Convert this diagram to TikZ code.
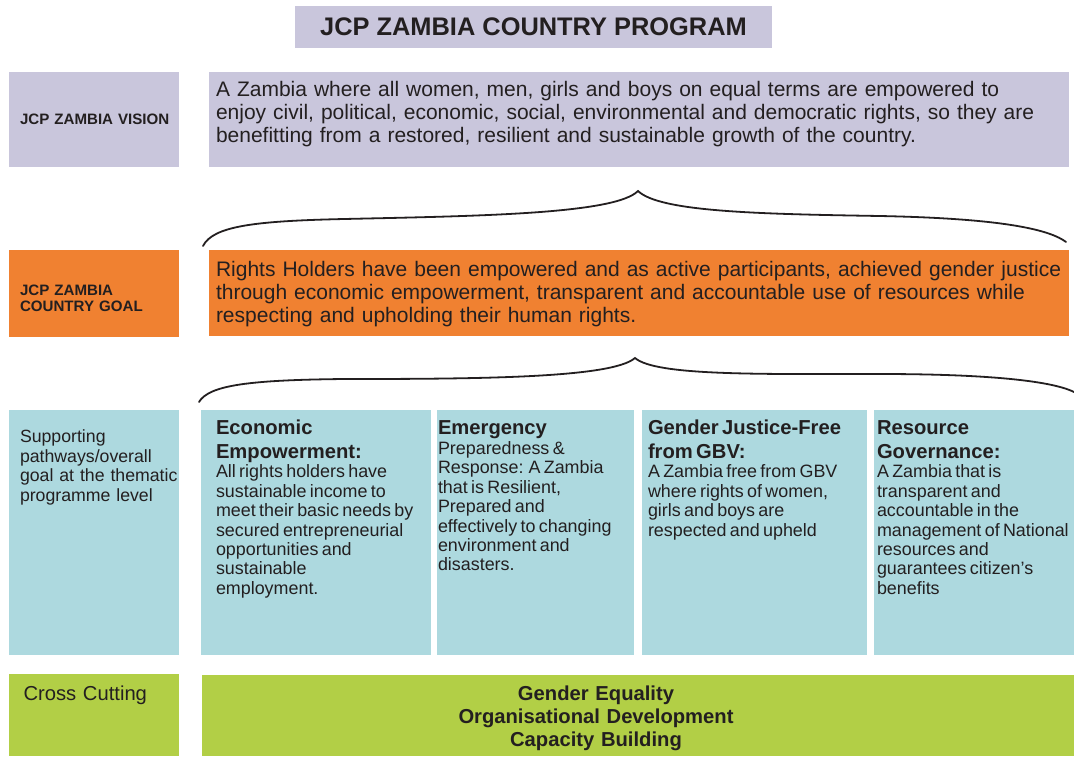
\documentclass[tikz,border=0pt]{standalone}
\usepackage{fontspec}
\setmainfont{Liberation Sans}
\newfontfamily\bodyfam{Liberation Sans}[WordSpace=1.2]
\definecolor{lav}{HTML}{C9C6DC}
\definecolor{org}{HTML}{F08131}
\definecolor{blu}{HTML}{ADD9DF}
\definecolor{grn}{HTML}{B2CF46}
\definecolor{ink}{HTML}{231F20}
\tikzset{
  box/.style={draw=none, inner sep=0pt, outer sep=0pt, anchor=north west},
  txt/.style={inner sep=0pt, outer sep=0pt, text=ink, anchor=base west, align=left, text width=420pt},
  ctxt/.style={inner sep=0pt, outer sep=0pt, text=ink, anchor=base, align=center, text width=420pt},
  brace/.style={draw=ink, line width=1.8pt, line cap=round},
  labf/.style={font=\fontsize{15.1}{16.7}\selectfont\bfseries},
  bigf/.style={font=\fontsize{21.0}{23.4}\selectfont},
  bodyf/.style={font=\fontsize{17.7}{19.6}\selectfont}
}
\newcommand{\hd}[1]{{\fontsize{20.2}{23.4}\selectfont\bfseries #1\par}}
\newcommand{\bd}[1]{{\bodyfam\fontsize{17.9}{19.45}\selectfont #1\par}}
\begin{document}
\begin{tikzpicture}[x=1pt,y=-1pt]
\useasboundingbox (0,0) rectangle (1074,756);
\fill[white] (0,0) rectangle (1074,756);

% title
\node[box, fill=lav, minimum width=477pt, minimum height=42pt] (title) at (295,6) {};
\node[inner sep=0pt, text=ink, font=\fontsize{25.4}{28}\selectfont\bfseries] (titletxt) at (title.center) {JCP ZAMBIA COUNTRY PROGRAM};

% vision row
\node[box, fill=lav, minimum width=170pt, minimum height=95pt] (vlab) at (9,72) {};
\node[txt, labf] (vlabtxt) at (20,124.3) {JCP ZAMBIA VISION};
\node[box, fill=lav, minimum width=860pt, minimum height=95pt] (vis) at (209,72) {};
\node[txt, bigf, text width=860pt] (vistxt) at (216,96) {A Zambia where all women, men, girls and boys on equal terms are empowered to\\enjoy civil, political, economic, social, environmental and democratic rights, so they are\\benefitting from a restored, resilient and sustainable growth of the country.};

% brace 1
\draw[brace] (203,246) .. controls (213,226) and (255,221) .. (344,219) .. controls (480,216) and (615,214) .. (638,191) .. controls (660,212) and (760,214) .. (880,216) .. controls (980,218) and (1045,226) .. (1066,242);

% goal row
\node[box, fill=org, minimum width=170pt, minimum height=87pt] (glab) at (9,250) {};
\node[txt, labf] (glabtxt) at (20,295) {JCP ZAMBIA\\COUNTRY GOAL};
\node[box, fill=org, minimum width=860pt, minimum height=86pt] (goal) at (209,250) {};
\node[txt, bigf, text width=860pt] (goaltxt) at (216,276) {Rights Holders have been empowered and as active participants, achieved gender justice\\through economic empowerment, transparent and accountable use of resources while\\respecting and upholding their human rights.};

% brace 2
\draw[brace] (199,402) .. controls (209,385) and (250,380) .. (344,379) .. controls (480,379) and (612,378) .. (635,358) .. controls (656,376) and (760,374) .. (880,374) .. controls (980,374) and (1050,380) .. (1074,392);

% pathways row
\node[box, fill=blu, minimum width=170pt, minimum height=245pt] (sup) at (9,410) {};
\node[txt, bodyf] (suptxt) at (20,442.6) {Supporting\\pathways/overall\\goal at the thematic\\programme level};

\node[box, fill=blu, minimum width=230pt, minimum height=245pt] (ee) at (201,410) {};
\node[txt] (eetxt) at (216,434.8) {\hd{Economic\\Empowerment:}\bd{All rights holders have\\sustainable income to\\meet their basic needs by\\secured entrepreneurial\\opportunities and\\sustainable\\employment.}};

\node[box, fill=blu, minimum width=197pt, minimum height=245pt] (em) at (437,410) {};
\node[txt] (emtxt) at (438,434.8) {\hd{Emergency}\bd{Preparedness \&\\Response: A Zambia\\that is Resilient,\\Prepared and\\effectively to changing\\environment and\\disasters.}};

\node[box, fill=blu, minimum width=225pt, minimum height=245pt] (gj) at (642,410) {};
\node[txt] (gjtxt) at (648,434.8) {\hd{Gender Justice-Free\\from GBV:}\bd{A Zambia free from GBV\\where rights of women,\\girls and boys are\\respected and upheld}};

\node[box, fill=blu, minimum width=200pt, minimum height=245pt] (rg) at (874,410) {};
\node[txt] (rgtxt) at (877,434.8) {\hd{Resource\\Governance:}\bd{A Zambia that is\\transparent and\\accountable in the\\management of National\\resources and\\guarantees citizen’s\\benefits}};

% cross cutting row
\node[box, fill=grn, minimum width=170pt, minimum height=82pt] (clab) at (9,674) {};
\node[txt, font=\fontsize{20.2}{23}\selectfont] (clabtxt) at (23.5,700) {Cross Cutting};
\node[box, fill=grn, minimum width=872pt, minimum height=81pt] (cross) at (202,675) {};
\node[ctxt, font=\fontsize{20.2}{23}\selectfont\bfseries] (crosstxt) at (596,700) {Gender Equality\\Organisational Development\\Capacity Building};
\end{tikzpicture}
\end{document}
